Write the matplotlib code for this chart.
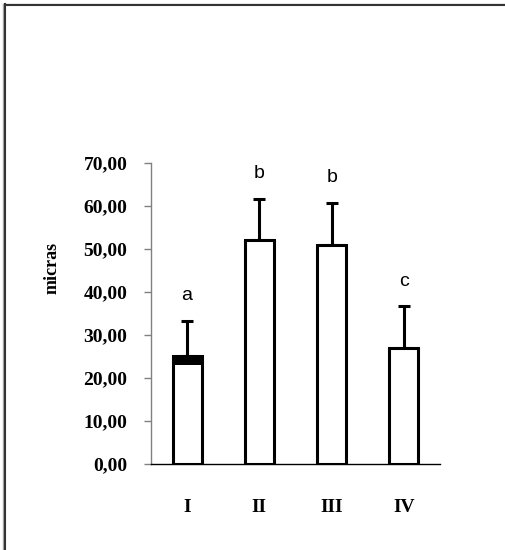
import numpy as np
import matplotlib.pyplot as plt
from matplotlib.lines import Line2D

# datos
groups = ['I', 'II', 'III', 'IV']
means = [25.1, 52.1, 50.9, 26.9]
errors = [8.2, 9.5, 9.9, 9.8]
dark_top = [2.1, 0.0, 0.0, 0.0]
letters = ['a', 'b', 'b', 'c']
yticks = [0, 10, 20, 30, 40, 50, 60, 70]
ytick_labels = ['0,00', '10,00', '20,00', '30,00', '40,00', '50,00', '60,00', '70,00']

serif_bold = dict(family='Liberation Serif', weight='bold')

fig = plt.figure(figsize=(5.06, 5.5), dpi=100)
ax = fig.add_axes([151 / 506, 86 / 550, 289 / 506, 301 / 550])

x = np.arange(len(groups))
m = np.array(means)
d = np.array(dark_top)

ax.bar(x, m, width=0.4, color='white', edgecolor='black', linewidth=2.2, zorder=2)
ax.bar(x, d, width=0.4, bottom=m - d, color='black', linewidth=0, zorder=3)
ax.errorbar(x, m, yerr=[np.zeros(len(x)), errors], fmt='none', ecolor='black',
            elinewidth=2.2, capsize=4.5, capthick=2.2, zorder=1)

for xi, mi, ei, lt in zip(x, means, errors, letters):
    ax.annotate(lt, (xi, mi + ei), xytext=(0, 12), textcoords='offset points',
                ha='center', va='bottom', fontsize=14, family='Liberation Sans')

ax.set_xlim(-0.5, 3.5)
ax.set_ylim(0, 70)
ax.set_yticks(yticks)
ax.set_yticklabels(ytick_labels, fontsize=14, **serif_bold)
ax.set_xticks(x)
ax.set_xticklabels(groups, fontsize=14, **serif_bold)

ax.tick_params(axis='y', length=5, width=1, color='#808080', pad=12)
ax.tick_params(axis='x', length=0, pad=25)

for s in ['top', 'right']:
    ax.spines[s].set_visible(False)
ax.spines['left'].set_color('#808080')
ax.spines['left'].set_linewidth(1)
ax.spines['bottom'].set_color('black')
ax.spines['bottom'].set_linewidth(1)

fig.text(52 / 506, 1 - 268 / 550, 'micras', rotation=90, ha='center', va='center',
         fontsize=13, **serif_bold)

# marco superior e izquierdo
fig.add_artist(Line2D([4 / 506, 1], [1 - 3.5 / 550] * 2, transform=fig.transFigure,
                      color='#aaaaaa', lw=1))
fig.add_artist(Line2D([4 / 506, 1], [1 - 4.8 / 550] * 2, transform=fig.transFigure,
                      color='#333333', lw=1.5))
fig.add_artist(Line2D([3.5 / 506] * 2, [0, 1 - 4 / 550], transform=fig.transFigure,
                      color='#aaaaaa', lw=1))
fig.add_artist(Line2D([4.8 / 506] * 2, [0, 1 - 4 / 550], transform=fig.transFigure,
                      color='#333333', lw=1.5))

fig.savefig('out.png', dpi=100)
